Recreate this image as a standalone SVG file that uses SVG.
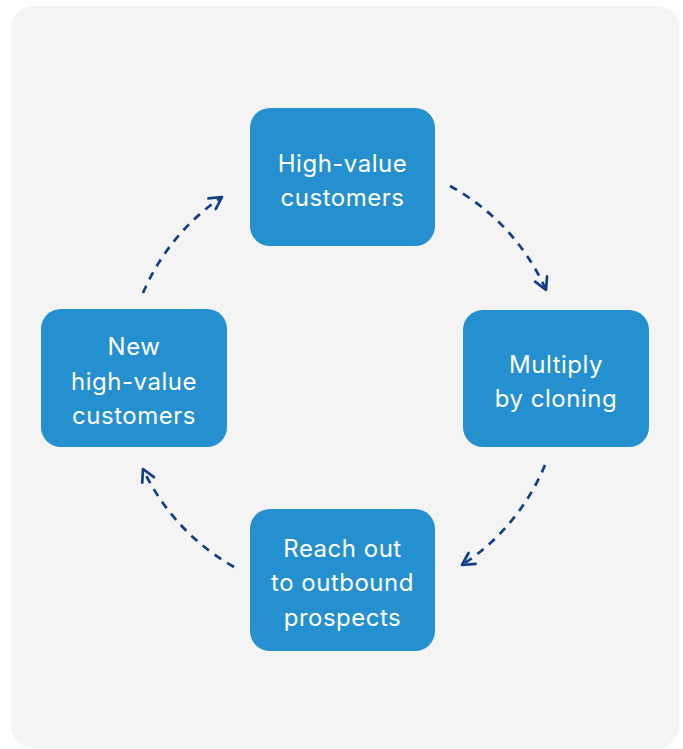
<svg xmlns="http://www.w3.org/2000/svg" width="683" height="749" viewBox="0 0 683 749">
<style>
.node{fill:#2490D0}
.lbl{fill:#ffffff;font-family:Inter,"Noto Sans",sans-serif;font-size:24px;text-anchor:middle;letter-spacing:0.5px}
.conn{fill:none;stroke:#123F87;stroke-width:2.7;stroke-dasharray:8 7;marker-end:url(#ah)}
</style>
<defs>
<marker id="ah" viewBox="0 0 16 16" refX="14" refY="8" markerWidth="16" markerHeight="16" markerUnits="userSpaceOnUse" orient="auto">
<path d="M2,1.5 L14,8 L2,14.5" fill="none" stroke="#123F87" stroke-width="2.7" stroke-linecap="round" stroke-linejoin="round"/>
</marker>
</defs>
<rect x="0" y="0" width="683" height="749" fill="#ffffff"/>
<rect x="11" y="6" width="668" height="742" rx="22" fill="#F4F4F4"/>
<g id="connectors">
<path class="conn" d="M450,186 A220,220 0 0 1 546,290"/>
<path class="conn" d="M545,465 A220,220 0 0 1 462,565"/>
<path class="conn" d="M234,567 A220,220 0 0 1 143,469"/>
<path class="conn" d="M143,293 A220,220 0 0 1 222,197"/>
</g>
<g id="high-value">
<rect class="node" x="250" y="108" width="185" height="138" rx="20"/>
<text class="lbl" x="342.5" y="172">High-value</text>
<text class="lbl" x="342.5" y="206">customers</text>
</g>
<g id="multiply">
<rect class="node" x="463" y="310" width="186" height="137" rx="20"/>
<text class="lbl" x="556" y="373">Multiply</text>
<text class="lbl" x="556" y="407">by cloning</text>
</g>
<g id="reach">
<rect class="node" x="250" y="509" width="185" height="142" rx="20"/>
<text class="lbl" x="342.5" y="557">Reach out</text>
<text class="lbl" x="342.5" y="591">to outbound</text>
<text class="lbl" x="342.5" y="626">prospects</text>
</g>
<g id="new">
<rect class="node" x="41" y="309" width="186" height="138" rx="20"/>
<text class="lbl" x="134" y="355">New</text>
<text class="lbl" x="134" y="390">high-value</text>
<text class="lbl" x="134" y="424">customers</text>
</g>
</svg>
